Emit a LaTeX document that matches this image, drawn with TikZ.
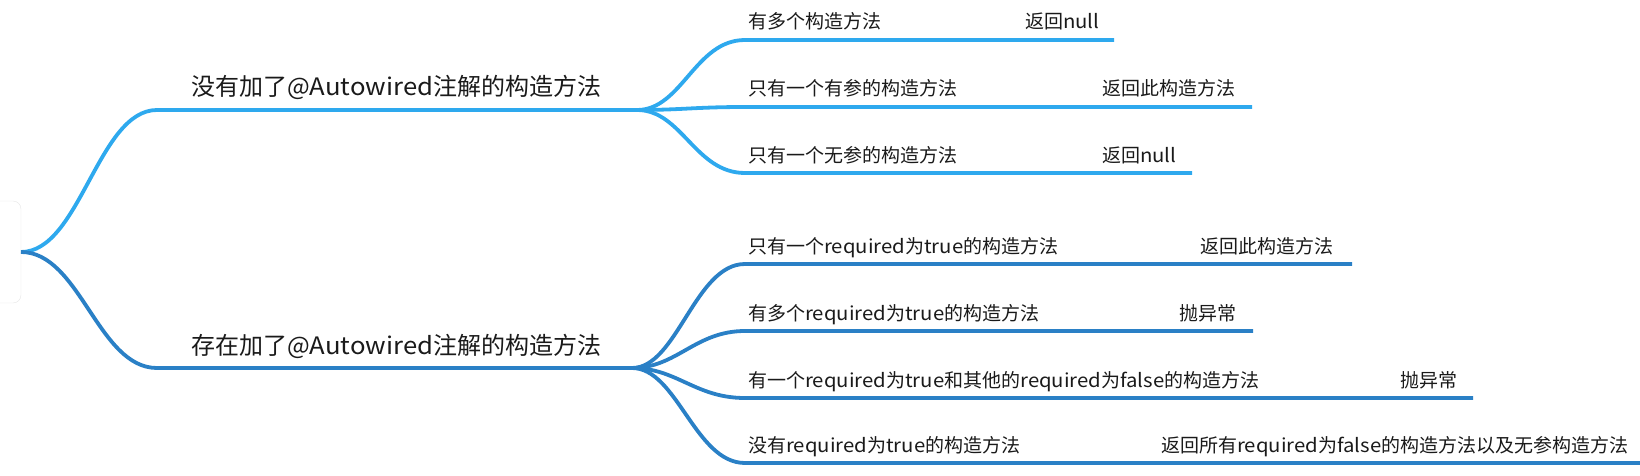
\documentclass[tikz,border=0pt]{standalone}
\usepackage{fontspec}
\setmainfont{Noto Sans CJK SC}
\newfontfamily\latwide[FakeStretch=1.07]{Noto Sans CJK SC}
\newcommand\lt[1]{{\latwide #1}}
\definecolor{cA}{HTML}{2EA9EE}
\definecolor{cB}{HTML}{2A80C6}
\definecolor{txt}{HTML}{1A1A1A}
\definecolor{boxline}{HTML}{E6E6E6}
\begin{document}
\begin{tikzpicture}[x=1pt,y=-1pt,
  lineA/.style={draw=cA, line width=3.8pt},
  lineB/.style={draw=cB, line width=3.8pt},
  ptext/.style={anchor=base west, inner sep=0pt, font=\fontsize{24}{28}\selectfont, text=txt},
  ctext/.style={anchor=base west, inner sep=0pt, font=\fontsize{19}{22}\selectfont, text=txt}]
\useasboundingbox (0,0) rectangle (1640,476);
% root box
\draw[boxline, fill=white, rounded corners=8pt] (-20,201) rectangle (21,303);
\coordinate (root) at (21,252);
% parents
\coordinate (p1a) at (157,110); \coordinate (p1b) at (637,110);
\coordinate (p2a) at (157,368); \coordinate (p2b) at (632,368);
\draw[lineA] (root) .. controls (80,252) and (98,110) .. (p1a) -- (p1b);
\draw[lineB] (root) .. controls (80,252) and (98,368) .. (p2a) -- (p2b);
\node[ptext] (t1) at (191,96) {没有加了@\lt{Autowired}注解的构造方法};
\node[ptext] (t2) at (191,354) {存在加了@\lt{Autowired}注解的构造方法};
% top children
\coordinate (a1) at (745,40);  \coordinate (a1e) at (1114,40);
\coordinate (a2) at (745,107); \coordinate (a2e) at (1252,107);
\coordinate (a3) at (745,173); \coordinate (a3e) at (1192,173);
\foreach \c in {a1,a2,a3}{
  \draw[lineA] (p1b) .. controls ([xshift=45pt]p1b) and ([xshift=-50pt]\c) .. (\c) -- (\c e);
}
\node[ctext] (a1t) at (748,29) {有多个构造方法};
\node[ctext] (a1r) at (1025,29) {返回\lt{null}};
\node[ctext] (a2t) at (748,96) {只有一个有参的构造方法};
\node[ctext] (a2r) at (1102,96) {返回此构造方法};
\node[ctext] (a3t) at (748,162) {只有一个无参的构造方法};
\node[ctext] (a3r) at (1102,162) {返回\lt{null}};
% bottom children
\coordinate (b1) at (745,264); \coordinate (b1e) at (1352,264);
\coordinate (b2) at (745,331); \coordinate (b2e) at (1253,331);
\coordinate (b3) at (745,398); \coordinate (b3e) at (1473,398);
\coordinate (b4) at (745,463); \coordinate (b4e) at (1640,463);
\foreach \c in {b1,b2,b3,b4}{
  \draw[lineB] (p2b) .. controls ([xshift=45pt]p2b) and ([xshift=-50pt]\c) .. (\c) -- (\c e);
}
\node[ctext] (b1t) at (748,253) {只有一个\lt{required}为\lt{true}的构造方法};
\node[ctext] (b1r) at (1200,253) {返回此构造方法};
\node[ctext] (b2t) at (748,320) {有多个\lt{required}为\lt{true}的构造方法};
\node[ctext] (b2r) at (1179,320) {抛异常};
\node[ctext] (b3t) at (748,387) {有一个\lt{required}为\lt{true}和其他的\lt{required}为\lt{false}的构造方法};
\node[ctext] (b3r) at (1400,387) {抛异常};
\node[ctext] (b4t) at (748,452) {没有\lt{required}为\lt{true}的构造方法};
\node[ctext] (b4r) at (1161,452) {返回所有\lt{required}为\lt{false}的构造方法以及无参构造方法};
\end{tikzpicture}
\end{document}
